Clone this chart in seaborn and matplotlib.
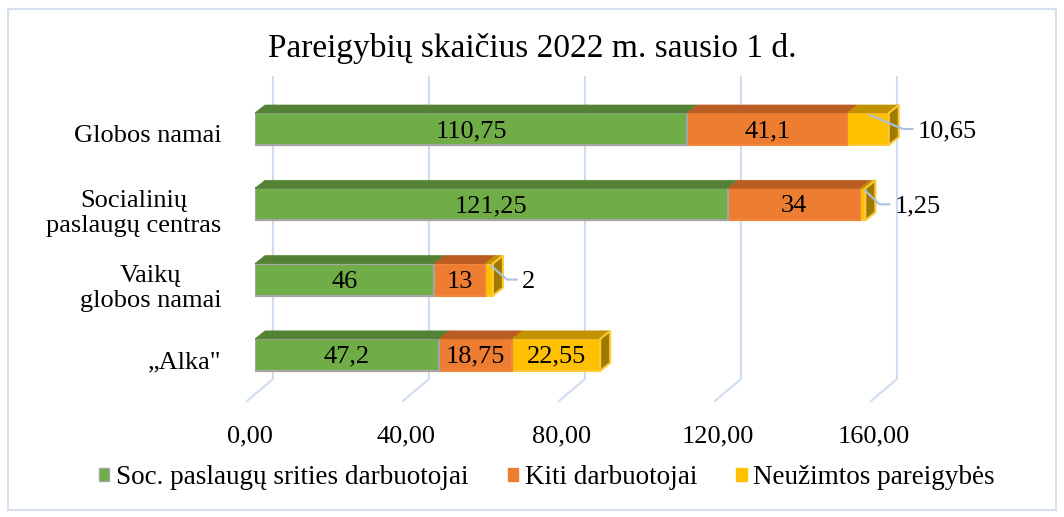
import numpy as np
import matplotlib
matplotlib.use("Agg")
import matplotlib.pyplot as plt
import matplotlib.transforms as mtransforms
from matplotlib.patches import Polygon, Patch, Rectangle
import seaborn as sns

# duomenys
categories = ["Globos namai", "Socialinių\npaslaugų centras", "Vaikų\nglobos namai", "„Alka\""]
soc_workers = [110.75, 121.25, 46, 47.2]
other_workers = [41.1, 34, 13, 18.75]
vacant = [10.65, 1.25, 2, 22.55]
series_names = ["Soc. paslaugų srities darbuotojai", "Kiti darbuotojai", "Neužimtos pareigybės"]
x_ticks = [0, 40, 80, 120, 160]
title = "Pareigybių skaičius 2022 m. sausio 1 d."

# spalvos
face_cols = ["#70AD47", "#ED7D31", "#FFC000"]
top_cols = ["#548235", "#BA5D22", "#C29200"]
edge_cols = ["#A5A5A5", "#F0853C", "#FFC936"]
side_col = "#9E7A00"
grid_col = "#D0DCF0"

sns.set_style("white")
plt.rcParams["font.family"] = ["Liberation Serif", "DejaVu Serif"]
for key in ["text.color", "axes.labelcolor", "xtick.color", "ytick.color"]:
    plt.rcParams[key] = "black"

W, H = 1064, 517
fig = plt.figure(figsize=(W / 100, H / 100), dpi=100)

# asies vieta pikseliais
AX_L, AX_R, AX_T, AX_B = 255, 905, 70, 410
PX_PER_UNIT = 3.9
XMAX = (AX_R - AX_L) / PX_PER_UNIT
ROW_PX = 75.3
Y_TOP = -(129 - AX_T) / ROW_PX
Y_BOT = Y_TOP + (AX_B - AX_T) / ROW_PX
BAR_H = 32 / ROW_PX

ax = fig.add_axes([AX_L / W, 1 - AX_B / H, (AX_R - AX_L) / W, (AX_B - AX_T) / H])

def ux(px):
    return px / PX_PER_UNIT

def uy(px):
    return px / ROW_PX

series = [np.array(soc_workers), np.array(other_workers), np.array(vacant)]
cum = np.cumsum(series, axis=0)
starts = cum - np.array(series)

# sluoksniuoti stulpeliai (nuo didžiausios sumos)
for i in reversed(range(3)):
    sns.barplot(x=list(cum[i]), y=categories, color=face_cols[i], saturation=1,
                width=BAR_H, edgecolor=edge_cols[i], linewidth=1.5, ax=ax, zorder=2)

ax.set_xlim(0, XMAX)
ax.set_ylim(Y_BOT, Y_TOP)

# tinklelio linijos (galinė siena + grindys)
yt_ax = (AX_B - 77) / (AX_B - AX_T)
yb_ax = (AX_B - 379) / (AX_B - AX_T)
yf_ax = (AX_B - 401) / (AX_B - AX_T)
blend = mtransforms.blended_transform_factory(ax.transData, ax.transAxes)
for v in x_ticks:
    ax.plot([v + ux(18), v + ux(18), v - ux(8)], [yt_ax, yb_ax, yf_ax],
            color=grid_col, lw=1.5, transform=blend, zorder=0, clip_on=False)

# 3D viršus ir šonas
DX, DY = ux(10), uy(8)
for j in range(len(categories)):
    yt = j - BAR_H / 2
    yb = j + BAR_H / 2
    for i in range(3):
        x0, x1 = starts[i][j], cum[i][j]
        ax.add_patch(Polygon([(x0, yt), (x1, yt), (x1 + DX, yt - DY), (x0 + DX, yt - DY)],
                             closed=True, facecolor=top_cols[i], edgecolor=top_cols[i],
                             lw=0.5, zorder=3))
    x1 = cum[2][j]
    ax.add_patch(Polygon([(x1, yt), (x1 + DX, yt - DY), (x1 + DX, yb - DY), (x1, yb)],
                         closed=True, facecolor=side_col, edgecolor=edge_cols[2],
                         lw=1.5, zorder=3))

def fmt(v):
    return f"{v:g}".replace(".", ",")

# reikšmių etiketės
for j in range(len(categories)):
    for i in range(3):
        x0, x1 = starts[i][j], cum[i][j]
        val = series[i][j]
        mid = (x0 + x1) / 2
        if i == 2 and val < 15:
            ys = j - BAR_H / 2 + uy(2)
            ax.plot([mid + ux(2), x1 + ux(14), x1 + ux(24)], [ys, j, j],
                    color="#A9C0E2", lw=1.5, zorder=4, clip_on=False)
            ax.text(x1 + ux(29), j + uy(2), fmt(val), ha="left", va="center",
                    fontsize=19, zorder=5, clip_on=False)
        else:
            ax.text(mid, j + uy(2), fmt(val), ha="center", va="center",
                    fontsize=19, zorder=5)

# ašys
sns.despine(ax=ax, left=True, bottom=True)
ax.set_xlabel("")
ax.set_ylabel("")
ax.set_xticks(x_ticks)
ax.set_xticklabels([f"{v:.2f}".replace(".", ",") for v in x_ticks], fontsize=19)
ax.tick_params(axis="x", length=0, pad=11)
ax.tick_params(axis="y", length=0, pad=24, labelsize=19)
ax.grid(False)
shift_x = mtransforms.ScaledTranslation(-5 / 100, 0, fig.dpi_scale_trans)
for lab in ax.get_xticklabels():
    lab.set_transform(lab.get_transform() + shift_x)
shift_y = mtransforms.ScaledTranslation(0, -5 / 100, fig.dpi_scale_trans)
for lab in ax.get_yticklabels():
    lab.set_multialignment("center")
    lab.set_transform(lab.get_transform() + shift_y)

fig.text(0.5, 1 - 49 / H, title, ha="center", va="center", fontsize=24)

handles = [Patch(facecolor=face_cols[i], edgecolor=edge_cols[i] if i == 0 else face_cols[i])
           for i in range(3)]
fig.legend(handles, series_names, loc="center", bbox_to_anchor=(547 / W, 1 - 478 / H),
           ncol=3, frameon=False, fontsize=19.5, handlelength=0.38, handleheight=0.38,
           handletextpad=0.25, columnspacing=1.45)

fig.add_artist(Rectangle((8 / W, 7 / H), (W - 16) / W, (H - 16) / H, transform=fig.transFigure,
                         fill=False, edgecolor="#D6DEEF", lw=1.5))

fig.savefig("out.png", dpi=100)
